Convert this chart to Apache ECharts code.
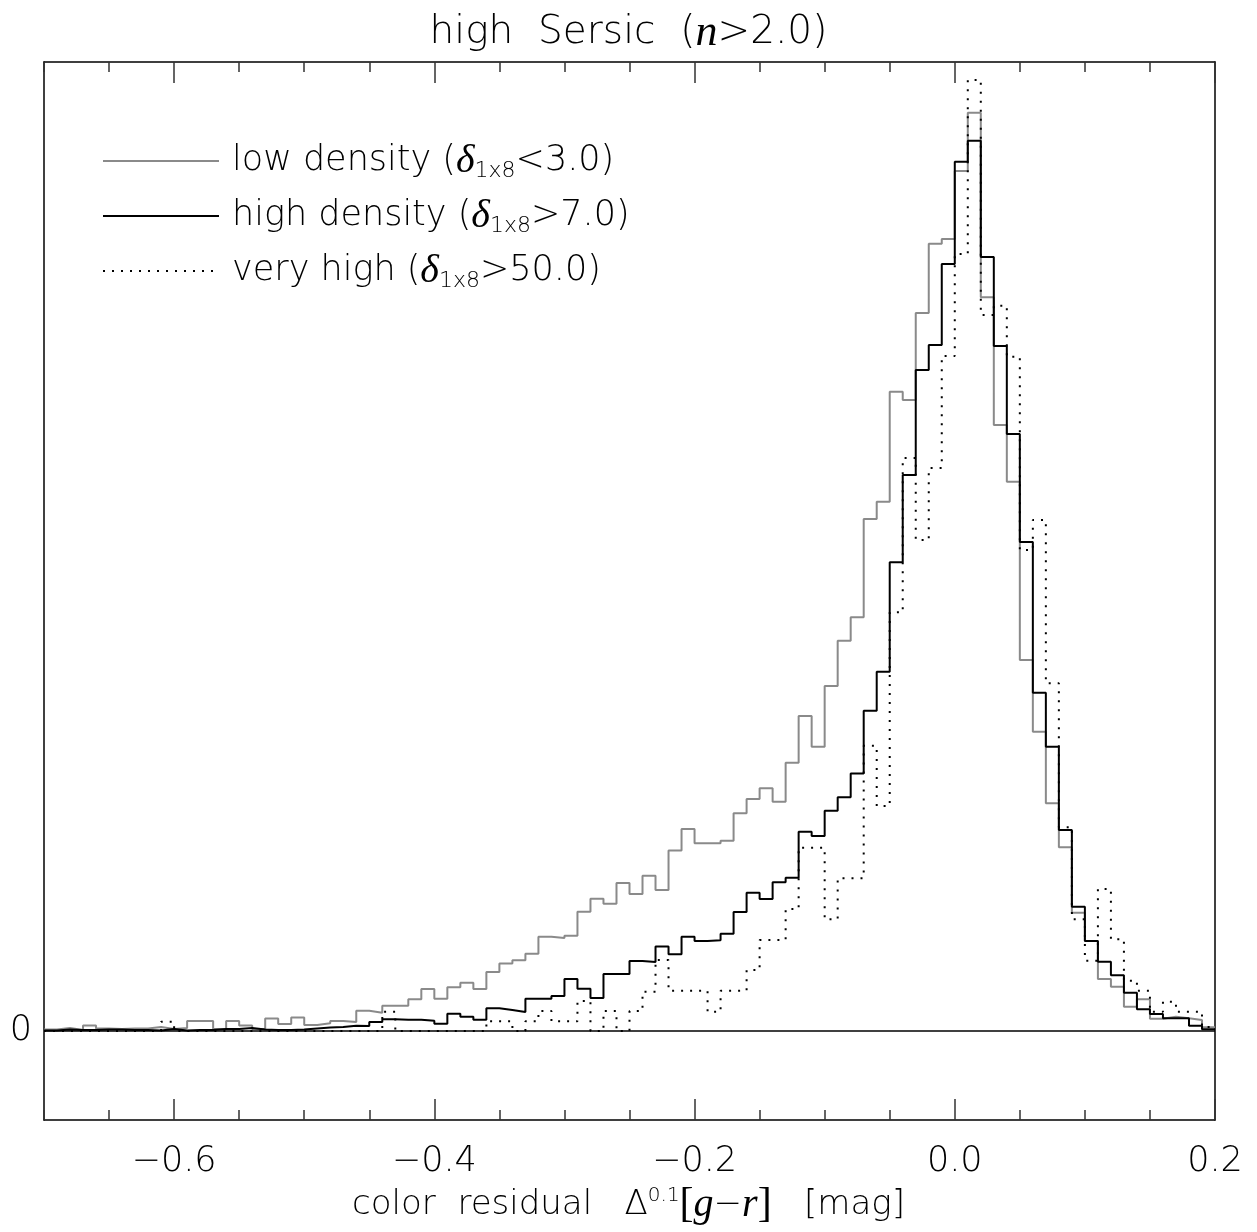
<!DOCTYPE html>
<html>
<head>
<meta charset="utf-8">
<script src="https://cdn.jsdelivr.net/npm/echarts@6/dist/echarts.min.js"></script>
<style>
html,body{margin:0;padding:0;background:#fff;}
#chart{width:1257px;height:1232px;}
</style>
</head>
<body>
<div id="chart"></div>
<script>
// Histogram bins: left edges from -0.70 in steps of 0.01 (90 bins up to 0.20)
const BIN_START = -0.70;
const BIN_WIDTH = 0.01;

// Tick labels
const xTickLabels = [-0.6, -0.4, -0.2, 0.0, 0.2];
const yTickLabels = [0];

// low density (delta_1x8 < 3.0) - grey
const lowDensity = [
  1.5, 3, 1, 5.5, 2.5, 2, 2.5, 2.5, 4, 2,
  3, 10, 10, 2, 10, 5.5, 2, 12.5, 7, 13.5,
  6, 7.7, 10, 9, 20.3, 18.3, 25.3, 25.3, 31.7, 42,
  32.3, 43.7, 48.3, 42, 59, 67.5, 70.8, 77.2, 94.3, 93,
  95.3, 119.3, 132.3, 127.3, 148, 137, 155.3, 141, 180.5, 202,
  187.7, 187.7, 190.3, 217.7, 232, 242.7, 229.3, 268.3, 315, 284.3,
  345, 390.3, 413.7, 512, 529.3, 639.3, 631, 718, 787.3, 792,
  860, 918.3, 733.7, 606, 549.3, 371, 299.3, 227.7, 183.7, 118.3,
  90, 52, 44.3, 24.3, 31.7, 12.3, 14.3, 12.7, 11, 3.7
];

// high density (delta_1x8 > 7.0) - black
const highDensity = [
  0.5, 1.5, 1, 1, 1.5, 1.5, 1, 1, 0.5, 2,
  0.5, 1, 1, 2, 2, 3, 1.5, 1, 1, 1.5,
  2.5, 3.5, 4, 5.3, 5, 9, 11.7, 11.3, 11.3, 10.3,
  7.3, 17.3, 14.3, 11.3, 22.7, 21, 19, 32.3, 32.3, 35,
  52, 42.3, 33, 57, 57, 70, 69, 84.5, 76.7, 94.3,
  90, 90.7, 97.3, 119, 138.3, 132, 148.7, 153.3, 199.3, 195,
  220.3, 233.7, 257.5, 320.3, 359.3, 468.7, 556, 661, 686, 767,
  869.3, 890.3, 774, 685, 597, 489, 338.3, 284.3, 201, 124.3,
  90, 69.3, 55.7, 38.3, 21.7, 17, 12.7, 12.7, 5.3, 1.7
];

// very high (delta_1x8 > 50.0) - dotted
const veryHigh = [
  0, 0, 0, 0, 0, 0, 0, 0, 0, 9.3,
  0, 0, 0, 0, 0, 0, 0, 0, 0, 0,
  0, 0, 0, 0, 0, 0, 19.3, 0, 0, 0,
  0, 0, 0, 0, 9.7, 9.7, 0, 9.7, 20, 9.7,
  9.7, 30, 0, 20, 0, 20, 39.3, 71, 40.3, 40.3,
  40.3, 19.3, 40.3, 40.3, 61, 91, 91, 122, 183.3, 183.3,
  111.7, 152.7, 152.7, 285.3, 225, 418.7, 573, 491, 563, 675,
  777, 951, 716, 725.3, 674.3, 481, 511, 347.7, 203.7, 111.7,
  70.3, 142, 91.7, 50.3, 40.3, 19.3, 29.3, 19.3, 19.3, 4
];

const seriesNames = [
  'low density (<3.0)',
  'high density (>7.0)',
  'very high (>50.0)'
];
const legendRich = {
  'low density (<3.0)': '{f|low density (}{d|δ}{s|1x8}{t|<3.0)}',
  'high density (>7.0)': '{f|high density (}{d|δ}{s|1x8}{t|>7.0)}',
  'very high (>50.0)': '{f|very high (}{d|δ}{s|1x8}{t|>50.0)}'
};

// Step points at each bin's left edge, plus a closing point at the right edge
function stepData(values) {
  const pts = values.map((v, i) => [+(BIN_START + i * BIN_WIDTH).toFixed(2), v]);
  pts.push([+(BIN_START + values.length * BIN_WIDTH).toFixed(2), values[values.length - 1]]);
  return pts;
}

const FONT = '"DejaVu Sans", sans-serif';
const FW = 200;
const SERIF = '"Liberation Serif", "DejaVu Serif", serif';
const fmtX = v => (v < -1e-9 ? '\u2212' : '') + Math.abs(v).toFixed(1);

const chart = echarts.init(document.getElementById('chart'), null, {renderer: 'canvas'});

const baseX = {
  type: 'value', min: -0.7, max: 0.2, interval: 0.05,
  splitLine: {show: false}
};

chart.setOption({
  animation: false,
  backgroundColor: '#fff',
  title: {
    text: '{a|high  Sersic  (}{i|n}{a|>2.0)}',
    left: 'center', top: 6,
    textStyle: {
      fontWeight: 'normal',
      rich: {
        a: {fontFamily: FONT, fontWeight: FW, fontSize: 39, color: '#000'},
        i: {fontFamily: SERIF, fontStyle: 'italic', fontWeight: 'normal', fontSize: 44, color: '#000'}
      }
    }
  },
  legend: {
    orient: 'vertical', left: 97, top: 136,
    itemWidth: 116, itemHeight: 22, itemGap: 14,
    data: seriesNames,
    itemStyle: {opacity: 0},
    formatter: name => legendRich[name],
    textStyle: {
      fontWeight: 'normal',
      rich: {
        f: {fontFamily: FONT, fontWeight: FW, fontSize: 35, color: '#000', padding: [0, 0, 0, 8]},
        t: {fontFamily: FONT, fontWeight: FW, fontSize: 35, color: '#000'},
        d: {fontFamily: SERIF, fontStyle: 'italic', fontWeight: 'normal', fontSize: 40, color: '#000'},
        s: {fontFamily: FONT, fontWeight: FW, fontSize: 22, color: '#000', padding: [20, 0, 0, 0]}
      }
    }
  },
  grid: {left: 44, right: 42, top: 62, bottom: 112, containLabel: false},
  xAxis: [
    Object.assign({}, baseX, {
      position: 'bottom',
      axisLine: {show: true, onZero: false, lineStyle: {color: '#000', width: 1.5}},
      axisTick: {show: true, inside: true, length: 10, lineStyle: {color: '#333', width: 1.5}},
      axisLabel: {
        show: true, customValues: xTickLabels, formatter: fmtX, margin: 24,
        fontFamily: FONT, fontWeight: FW, fontSize: 35, color: '#000'
      }
    }),
    Object.assign({}, baseX, {
      position: 'bottom',
      axisLine: {show: false, onZero: false},
      axisTick: {show: true, inside: true, length: 21, customValues: xTickLabels, lineStyle: {color: '#333', width: 1.5}},
      axisLabel: {show: false}
    }),
    Object.assign({}, baseX, {
      position: 'top',
      axisLine: {show: true, onZero: false, lineStyle: {color: '#000', width: 1.5}},
      axisTick: {show: true, inside: true, length: 10, lineStyle: {color: '#333', width: 1.5}},
      axisLabel: {show: false}
    }),
    Object.assign({}, baseX, {
      position: 'top',
      axisLine: {show: false, onZero: false},
      axisTick: {show: true, inside: true, length: 21, customValues: xTickLabels, lineStyle: {color: '#333', width: 1.5}},
      axisLabel: {show: false}
    })
  ],
  yAxis: [
    {
      type: 'value', position: 'left', min: -89, max: 969,
      splitLine: {show: false},
      axisLine: {show: true, onZero: false, lineStyle: {color: '#000', width: 1.5}},
      axisTick: {show: false},
      axisLabel: {
        show: true, customValues: yTickLabels, formatter: v => String(v), margin: 12,
        fontFamily: FONT, fontWeight: FW, fontSize: 35, color: '#000'
      }
    },
    {
      type: 'value', position: 'right', min: -89, max: 969,
      splitLine: {show: false},
      axisLine: {show: true, onZero: false, lineStyle: {color: '#000', width: 1.5}},
      axisTick: {show: false},
      axisLabel: {show: false}
    }
  ],
  graphic: [
    {
      type: 'text', left: 'center', top: 1184,
      style: {
        text: '{a|color  residual   Δ}{sup|0.1}{b|[}{i|g}{a|\u2212}{i|r}{b|]}{a|   [mag]}',
        rich: {
          a: {fontFamily: FONT, fontWeight: FW, fontSize: 34, fill: '#000'},
          b: {fontFamily: SERIF, fontWeight: 'normal', fontSize: 42, fill: '#000'},
          sup: {fontFamily: FONT, fontWeight: FW, fontSize: 20, fill: '#000', padding: [0, 0, 18, 0]},
          i: {fontFamily: SERIF, fontStyle: 'italic', fontWeight: 'normal', fontSize: 40, fill: '#000'}
        }
      }
    }
  ],
  series: [
    {
      name: seriesNames[0], type: 'line', step: 'end', symbol: 'none',
      xAxisIndex: 0, yAxisIndex: 0,
      data: stepData(lowDensity),
      lineStyle: {color: '#8a8a8a', width: 2},
      itemStyle: {color: '#8a8a8a'}
    },
    {
      name: seriesNames[1], type: 'line', step: 'end', symbol: 'none',
      xAxisIndex: 0, yAxisIndex: 0,
      data: stepData(highDensity),
      lineStyle: {color: '#000', width: 2},
      itemStyle: {color: '#000'},
      markLine: {
        silent: true, symbol: 'none', label: {show: false},
        lineStyle: {color: '#000', width: 1.5, type: 'solid'},
        data: [{yAxis: 0}]
      }
    },
    {
      name: seriesNames[2], type: 'line', step: 'end', symbol: 'none',
      xAxisIndex: 0, yAxisIndex: 0,
      data: stepData(veryHigh),
      lineStyle: {color: '#000', width: 2, type: [2, 7]},
      itemStyle: {color: '#000'}
    }
  ]
});
</script>
</body>
</html>
